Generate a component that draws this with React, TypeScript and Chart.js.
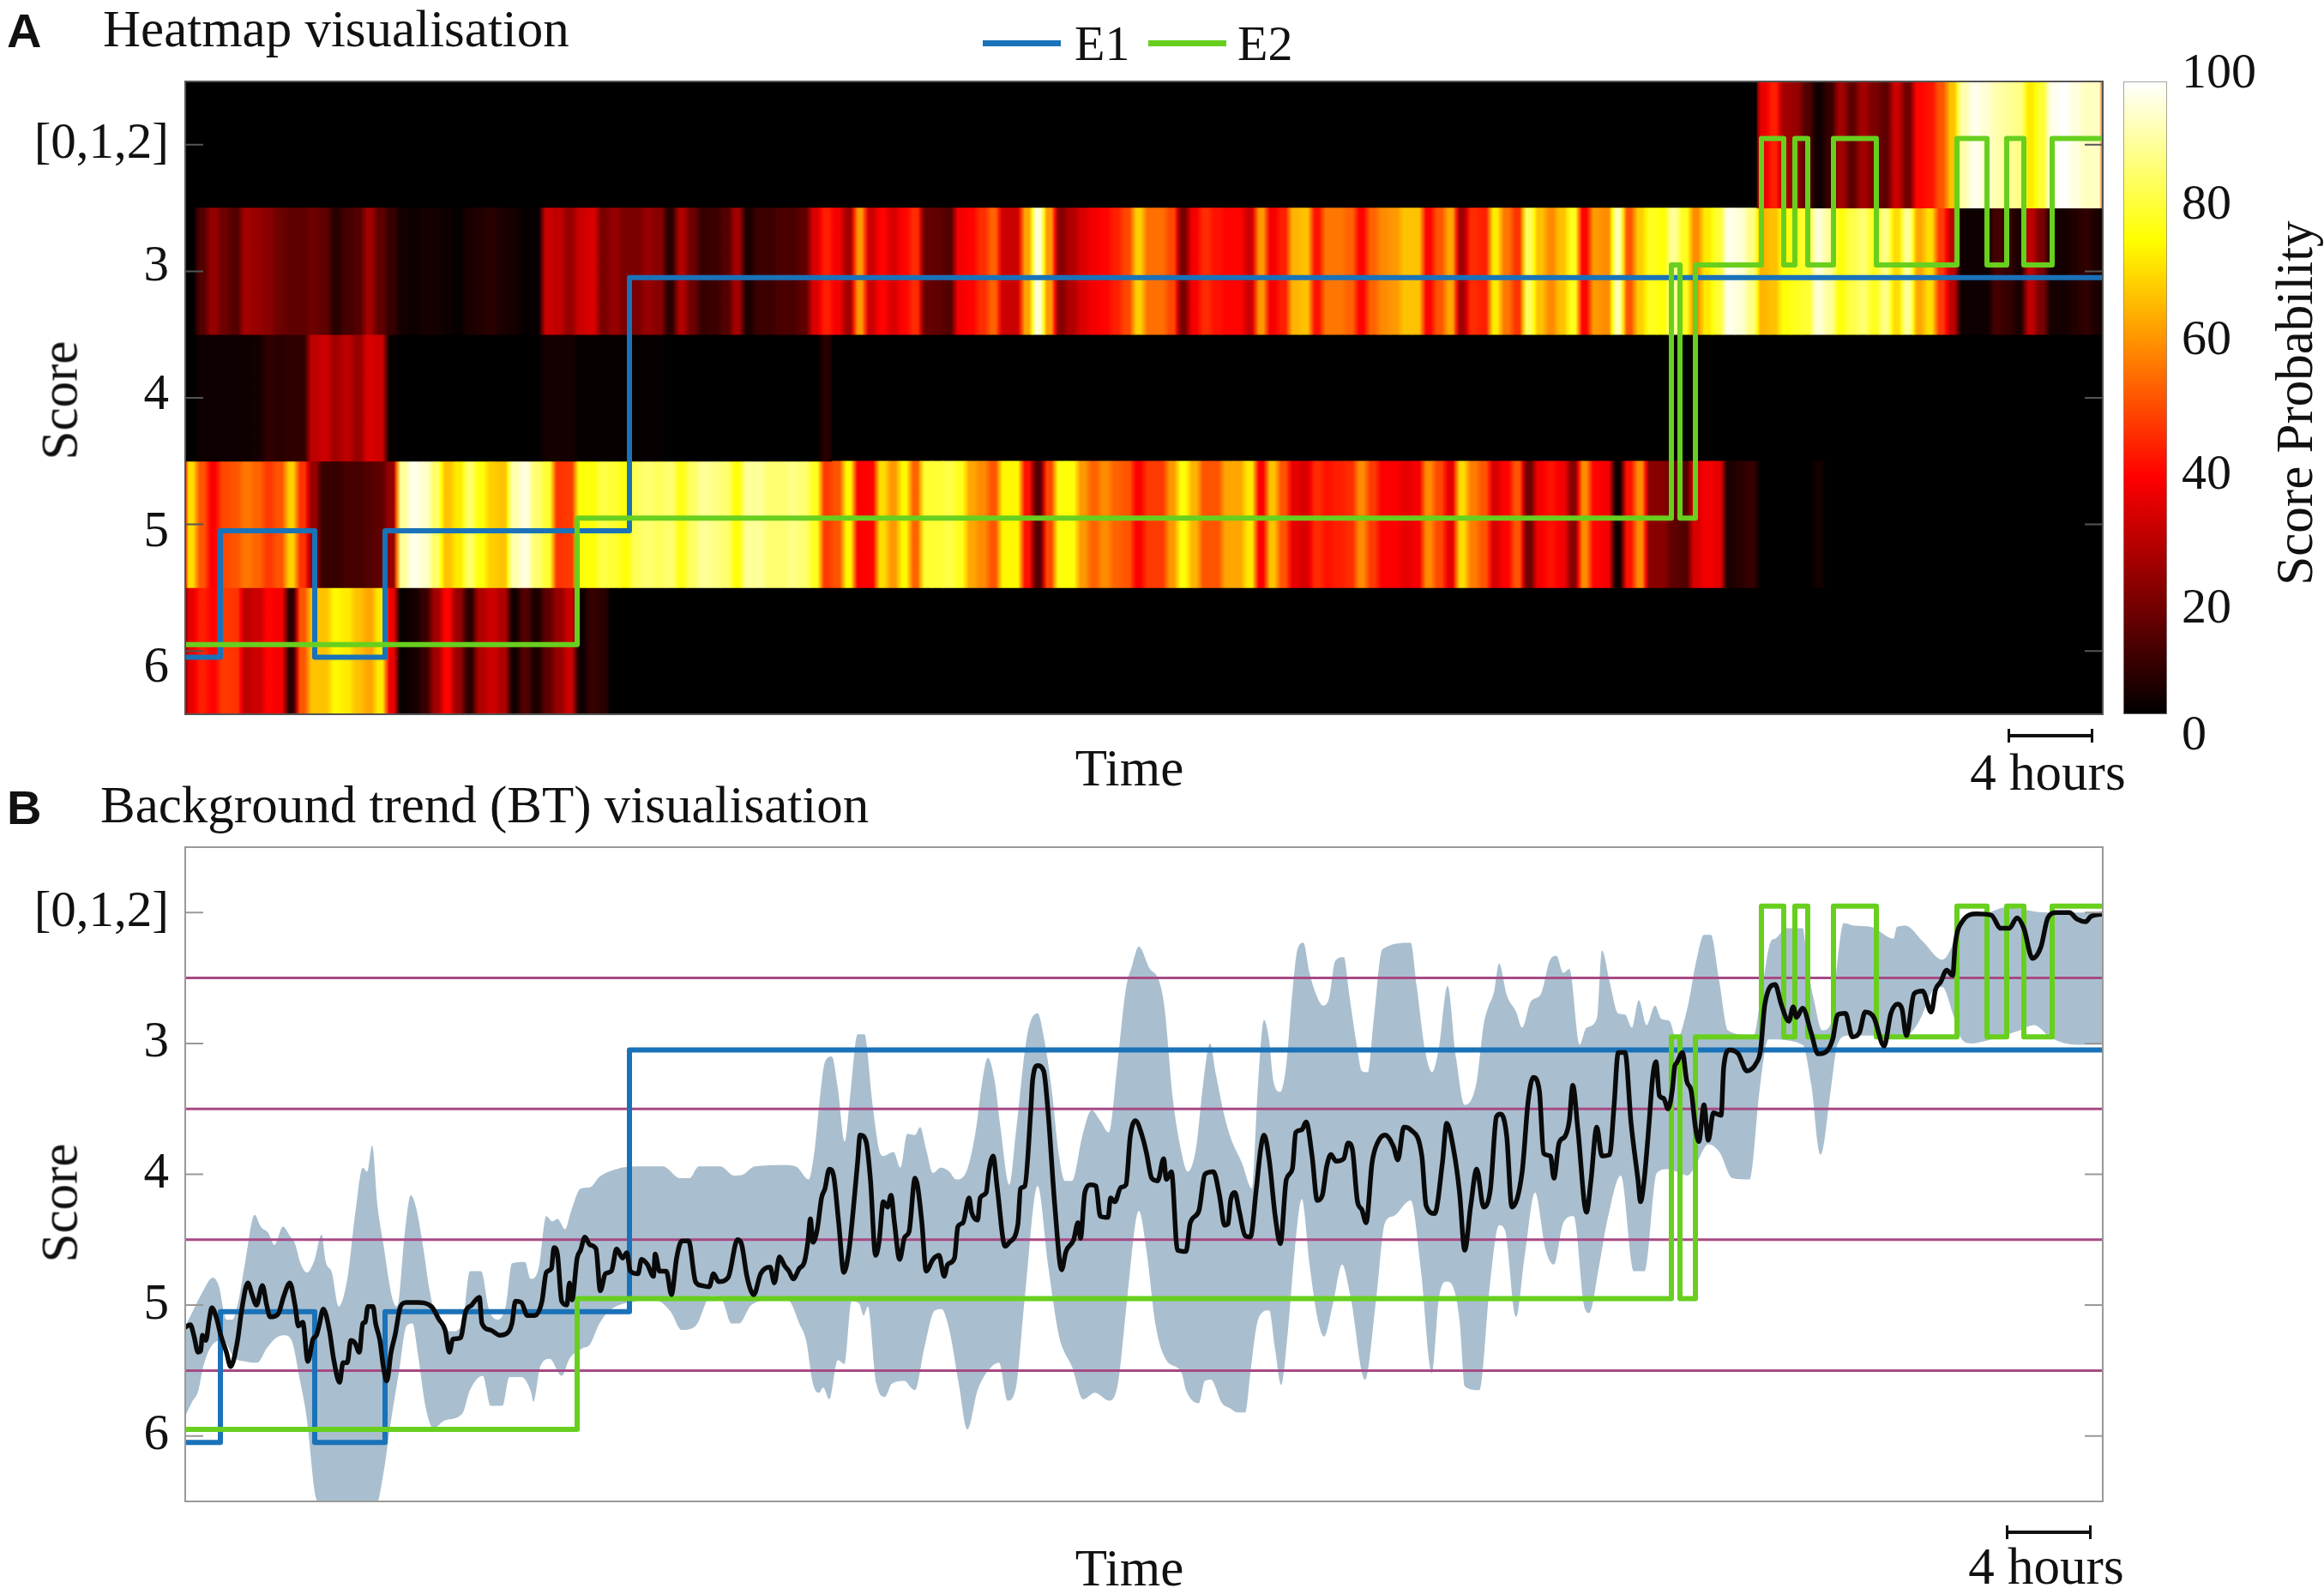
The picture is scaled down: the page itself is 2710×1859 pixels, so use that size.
import React, { useEffect, useRef } from 'react';
import { Chart, registerables } from 'chart.js';

Chart.register(...registerables);

// Time is in samples, 25 samples = 1 hour. Scores run from 2 ([0,1,2]) to 6.
const TOTAL_SAMPLES = 2236;
const COLUMN_SAMPLES = 13;

const scoreLevels = [2, 3, 4, 5, 6];
const scoreLabels = ['[0,1,2]', '3', '4', '5', '6'];
// the heatmap's labels sit a little off the row centres in the original
const heatLabelLevels = [2, 2.97, 3.98, 5.07, 6.14];
const colorbarLabels = ['100', '80', '60', '40', '20', '0'];
const bandThresholds = [2.5, 3.5, 4.5, 5.5];

// Expert scores as step changes: [sample, score]
const e1Steps = [[0, 6.05], [41, 5.05], [151, 6.05], [233, 5.05], [518, 3.05], [2236, 3.05]];
const e2Steps = [
  [0, 5.95], [457, 4.95], [1733, 2.95], [1743, 4.95], [1761, 2.95], [1838, 1.95], [1864, 2.95],
  [1877, 1.95], [1892, 2.95], [1922, 1.95], [1972, 2.95], [2066, 1.95], [2101, 2.95], [2124, 1.95],
  [2144, 2.95], [2177, 1.95], [2236, 1.95],
];

// Heatmap probabilities per score row, one value per column, from the first coloured column on
const row2First = 141;
const row2Probs = [
  34, 42, 24, 22, 12, 2, 8, 24, 14, 24, 18, 14, 30, 16, 38, 40, 50, 66, 92, 98, 96, 92, 90, 88, 72, 80, 98, 100, 97, 94, 94,
];
const row3First = 0;
const row3Probs = [
  0, 12, 22, 16, 12, 24, 22, 20, 16, 14, 14, 16, 14, 6, 10, 12, 24, 14, 8, 3, 2, 3, 3, 2, 1, 4, 5, 6, 4, 3, 1, 1, 30, 28, 22, 30, 32, 18, 22, 18, 18, 22, 20,
  6, 26, 16, 8, 9, 12, 24, 4, 9, 9, 11, 11, 14, 32, 42, 36, 24, 60, 30, 38, 32, 38, 44, 15, 14, 12, 36, 38, 44, 52, 30, 30, 62, 96, 60, 20, 26, 32, 36, 38, 42, 48, 68,
  54, 54, 48, 18, 36, 44, 40, 38, 38, 30, 60, 36, 42, 64, 66, 40, 55, 55, 52, 38, 52, 58, 60, 66, 66, 38, 50, 62, 24, 44, 42, 72, 55, 45, 84, 66, 58, 66, 78, 38, 60, 58, 92,
  50, 68, 78, 76, 90, 78, 58, 72, 80, 98, 96, 88, 64, 66, 76, 78, 80, 96, 90, 76, 82, 86, 78, 88, 70, 90, 62, 70, 46, 28, 2, 2, 2, 10, 8, 4, 28, 18, 3, 3, 5, 7, 4,
];
const row4First = 0;
const row4Probs = [
  0, 2, 2, 2, 2, 2, 3, 7, 6, 7, 7, 28, 30, 24, 28, 22, 32, 30, 1, 0, 0, 0, 0, 0, 0, 0, 0, 0, 0, 0, 0, 0, 3, 3, 3, 1, 1, 1, 1, 1, 1, 1, 1,
  0, 0, 0, 0, 0, 0, 0, 0, 0, 0, 0, 0, 0, 0, 6,
];
const row5First = 0;
const row5Probs = [
  70, 50, 37, 48, 50, 55, 52, 46, 50, 68, 45, 22, 8, 8, 10, 10, 12, 14, 22, 90, 98, 95, 85, 66, 72, 85, 76, 68, 66, 92, 97, 86, 80, 45, 46, 76, 76, 82, 80, 76, 84, 86, 84,
  86, 77, 85, 90, 88, 86, 76, 90, 90, 86, 86, 88, 86, 78, 46, 50, 74, 37, 38, 70, 60, 74, 52, 80, 80, 82, 78, 62, 58, 50, 74, 74, 40, 12, 48, 76, 76, 60, 52, 58, 52, 50, 37,
  46, 46, 60, 76, 64, 50, 50, 62, 62, 72, 37, 66, 50, 34, 32, 44, 40, 42, 44, 58, 46, 37, 37, 34, 36, 58, 48, 34, 70, 56, 50, 32, 38, 50, 16, 36, 40, 36, 20, 58, 38, 36, 2,
  40, 58, 20, 20, 14, 12, 32, 36, 34, 4, 6, 8, 0, 0, 0, 0, 0, 3,
];
const row6First = 0;
const row6Probs = [
  34, 42, 38, 46, 45, 28, 30, 38, 36, 6, 50, 66, 66, 74, 72, 66, 62, 72, 35, 1, 3, 8, 24, 38, 22, 6, 26, 30, 26, 3, 12, 4, 14, 22, 30, 2, 8, 6,
];

// Background trend, mean score over time: [sample, score]
const meanTrace = [
  [0, 5.17], [6, 5.15], [10, 5.23], [15, 5.36], [18, 5.35], [20, 5.23], [24, 5.27], [28, 5.11], [31, 5.02], [37, 5.11], [41, 5.22], [48, 5.36], [53, 5.47], [61, 5.27], [66, 5.03], [73, 4.83], [78, 4.92], [83, 5.0], [90, 4.85], [95, 5.0], [99, 5.09], [108, 5.07], [115, 4.93], [122, 4.83], [128, 5.0], [132, 5.16], [137, 5.13], [143, 5.43], [149, 5.26], [153, 5.23], [156, 5.16], [161, 5.03], [168, 5.19], [173, 5.41], [180, 5.59], [184, 5.44], [189, 5.44], [193, 5.27], [198, 5.29], [203, 5.36], [207, 5.14], [210, 5.13], [213, 5.01], [219, 5.01], [222, 5.14], [227, 5.27], [231, 5.47], [235, 5.58], [240, 5.36], [245, 5.22], [251, 5.01], [258, 4.98], [271, 4.98], [287, 5.01], [296, 5.11], [303, 5.19], [308, 5.36], [312, 5.26], [321, 5.25], [327, 5.05], [334, 5.0], [343, 4.94], [346, 5.14], [356, 5.19], [367, 5.23], [374, 5.22], [381, 5.14], [385, 4.97], [392, 4.98], [399, 5.08], [407, 5.08], [416, 4.97], [421, 4.75], [427, 4.72], [430, 4.56], [434, 4.61], [439, 4.97], [445, 5.0], [448, 4.83], [451, 4.96], [457, 4.64], [461, 4.58], [466, 4.48], [472, 4.54], [479, 4.57], [484, 4.89], [490, 4.76], [497, 4.74], [503, 4.57], [510, 4.64], [515, 4.6], [519, 4.74], [528, 4.76], [532, 4.65], [539, 4.69], [546, 4.78], [548, 4.61], [553, 4.74], [561, 4.74], [567, 4.92], [573, 4.64], [579, 4.51], [587, 4.51], [595, 4.82], [602, 4.85], [611, 4.86], [616, 4.76], [622, 4.82], [633, 4.79], [644, 4.5], [649, 4.54], [655, 4.78], [663, 4.92], [671, 4.76], [682, 4.71], [687, 4.83], [693, 4.63], [699, 4.7],
  [704, 4.74], [709, 4.8], [716, 4.72], [722, 4.67], [726, 4.52], [729, 4.34], [732, 4.52], [737, 4.42], [742, 4.18], [746, 4.11], [751, 3.96], [756, 4.01], [762, 4.37], [768, 4.75], [774, 4.58], [779, 4.27], [784, 3.91], [787, 3.7], [794, 3.75], [799, 4.04], [805, 4.62], [809, 4.52], [814, 4.21], [819, 4.25], [823, 4.16], [827, 4.37], [833, 4.65], [839, 4.48], [844, 4.44], [851, 4.03], [854, 4.09], [859, 4.37], [864, 4.74], [872, 4.65], [879, 4.62], [885, 4.78], [889, 4.69], [897, 4.64], [901, 4.4], [907, 4.37], [914, 4.18], [917, 4.29], [924, 4.35], [927, 4.18], [934, 4.14], [937, 3.98], [942, 3.86], [947, 4.11], [956, 4.55], [961, 4.52], [971, 4.38], [974, 4.11], [979, 4.09], [986, 3.51], [988, 3.29], [994, 3.17], [1001, 3.21], [1006, 3.51], [1014, 4.24], [1022, 4.73], [1027, 4.59], [1036, 4.5], [1041, 4.37], [1044, 4.49], [1049, 4.14], [1056, 4.08], [1062, 4.09], [1067, 4.32], [1076, 4.33], [1079, 4.18], [1084, 4.21], [1091, 4.1], [1097, 4.08], [1102, 3.71], [1108, 3.59], [1116, 3.71], [1121, 3.84], [1127, 4.03], [1134, 4.05], [1141, 3.88], [1144, 4.04], [1150, 3.98], [1157, 4.58], [1167, 4.59], [1172, 4.37], [1182, 4.28], [1189, 4.0], [1199, 3.98], [1206, 4.16], [1212, 4.39], [1216, 4.38], [1219, 4.2],
  [1224, 4.14], [1229, 4.28], [1236, 4.47], [1242, 4.48], [1249, 4.11], [1254, 3.81], [1258, 3.7], [1264, 3.89], [1271, 4.32], [1277, 4.53], [1284, 4.04], [1291, 3.96], [1295, 3.68], [1302, 3.66], [1307, 3.6], [1314, 3.86], [1320, 4.2], [1326, 4.16], [1331, 3.94], [1336, 3.85], [1342, 3.9], [1351, 3.88], [1356, 3.76], [1361, 3.81], [1367, 4.21], [1372, 4.27], [1377, 4.37], [1384, 3.91], [1391, 3.75], [1399, 3.7], [1409, 3.79], [1414, 3.89], [1421, 3.64], [1429, 3.66], [1442, 3.86], [1447, 4.24], [1457, 4.3], [1466, 3.91], [1471, 3.61], [1479, 3.81], [1486, 4.14], [1492, 4.58], [1499, 4.24], [1506, 3.96], [1514, 4.25], [1522, 4.11], [1529, 3.56], [1534, 3.54], [1541, 3.71], [1547, 4.25], [1559, 3.98], [1566, 3.44], [1572, 3.26], [1579, 3.36], [1584, 3.84], [1592, 3.86], [1596, 4.03], [1602, 3.76], [1609, 3.71], [1614, 3.59], [1618, 3.32], [1624, 3.66], [1634, 4.29], [1639, 4.06], [1646, 3.64], [1652, 3.86], [1661, 3.85], [1666, 3.49], [1671, 3.07], [1679, 3.07], [1686, 3.61], [1694, 4.04], [1697, 4.21], [1701, 4.06], [1707, 3.61], [1711, 3.27], [1715, 3.14], [1719, 3.4], [1724, 3.42], [1729, 3.5], [1734, 3.36], [1737, 3.17],
  [1739, 3.15], [1746, 3.07], [1751, 3.29], [1756, 3.36], [1761, 3.64], [1765, 3.75], [1771, 3.47], [1776, 3.74], [1782, 3.53], [1791, 3.55], [1794, 3.18], [1801, 3.05], [1811, 3.08], [1821, 3.21], [1832, 3.15], [1837, 3.05], [1842, 2.7], [1854, 2.55], [1861, 2.7], [1870, 2.83], [1875, 2.72], [1879, 2.8], [1886, 2.73], [1896, 2.92], [1904, 3.08], [1912, 3.07], [1921, 2.97], [1927, 2.78], [1936, 2.77], [1944, 2.95], [1952, 2.92], [1959, 2.76], [1969, 2.8], [1981, 3.02], [1989, 2.77], [1997, 2.7], [2002, 2.74], [2007, 2.94], [2016, 2.62], [2026, 2.6], [2036, 2.76], [2041, 2.59], [2047, 2.53], [2054, 2.44], [2061, 2.48], [2064, 2.24], [2072, 2.07], [2089, 2.01], [2106, 2.02], [2117, 2.12], [2127, 2.12], [2136, 2.04], [2144, 2.12], [2154, 2.35], [2164, 2.26], [2172, 2.04], [2182, 2.0], [2197, 2.0], [2206, 2.05], [2216, 2.07], [2222, 2.03], [2236, 2.01],
];

// Background trend, upper edge of the shaded band (top of the picture = lower score)
const bandUpper = [
  [0, 5.16], [10, 5.03], [21, 4.89], [32, 4.79], [39, 4.85], [48, 5.11], [55, 5.11], [61, 5.0], [70, 4.67], [81, 4.31], [88, 4.4], [97, 4.45], [104, 4.54], [114, 4.4], [122, 4.47], [128, 4.53], [135, 4.69], [142, 4.75], [151, 4.65], [159, 4.46], [164, 4.67], [171, 4.75], [179, 5.01], [189, 4.8], [198, 4.31], [207, 3.95], [212, 3.98], [218, 3.78], [224, 4.23], [231, 4.53], [242, 4.96], [247, 5.01], [256, 4.45], [263, 4.16], [269, 4.25], [278, 4.58], [285, 4.89], [294, 5.12], [312, 5.2], [323, 5.14], [332, 4.74], [345, 4.74], [354, 5.03], [365, 5.11], [374, 5.0], [381, 4.68], [396, 4.67], [403, 4.8], [412, 4.72], [421, 4.32], [428, 4.36], [434, 4.34], [443, 4.42], [450, 4.28], [461, 4.11], [472, 4.1], [483, 4.02], [503, 3.96], [526, 3.94], [557, 3.94], [577, 4.03], [588, 4.03], [599, 3.94], [624, 3.94], [640, 4.01], [651, 4.0], [664, 3.94], [699, 3.93],
  [712, 3.94], [727, 4.04], [734, 3.81], [741, 3.36], [746, 3.14], [754, 3.1], [761, 3.34], [769, 3.75], [776, 3.36], [784, 2.93], [792, 2.93], [801, 3.44], [809, 3.81], [814, 3.86], [826, 3.83], [834, 3.95], [842, 3.69], [851, 3.7], [857, 3.64], [864, 3.81], [872, 3.99], [881, 3.95], [891, 3.98], [899, 4.04], [912, 3.96], [922, 3.66], [929, 3.31], [936, 3.11], [944, 3.29], [951, 3.66], [961, 4.08], [969, 3.66], [982, 2.93], [994, 2.77], [1002, 2.98], [1011, 3.39], [1019, 3.86], [1026, 4.05], [1034, 4.05], [1046, 3.71], [1057, 3.51], [1067, 3.59], [1077, 3.68], [1087, 3.16], [1097, 2.58], [1104, 2.41], [1112, 2.26], [1124, 2.42], [1136, 2.53], [1142, 2.73], [1152, 3.44], [1161, 3.81], [1169, 3.98], [1179, 3.79], [1187, 3.31], [1195, 3.0], [1202, 3.24], [1212, 3.56], [1219, 3.72],
  [1232, 3.91], [1244, 4.11], [1251, 3.31], [1258, 2.82], [1264, 2.98], [1269, 3.29], [1277, 3.37], [1284, 3.16], [1291, 2.61], [1297, 2.28], [1304, 2.23], [1311, 2.46], [1319, 2.63], [1327, 2.71], [1334, 2.65], [1341, 2.37], [1351, 2.34], [1357, 2.61], [1366, 3.01], [1372, 3.21], [1379, 3.22], [1386, 2.81], [1396, 2.28], [1429, 2.23], [1436, 2.56], [1446, 3.06], [1454, 3.22], [1462, 3.03], [1472, 2.56], [1482, 3.11], [1492, 3.47], [1506, 3.29], [1514, 2.86], [1519, 2.73], [1526, 2.61], [1532, 2.39], [1541, 2.63], [1552, 2.76], [1559, 2.88], [1569, 2.68], [1581, 2.62], [1591, 2.37], [1599, 2.33], [1607, 2.46], [1614, 2.43], [1626, 3.01], [1634, 2.88], [1646, 2.81], [1652, 2.29], [1661, 2.53], [1671, 2.77], [1679, 2.78], [1687, 2.88], [1695, 2.67], [1704, 2.86], [1714, 2.71], [1721, 2.81], [1731, 2.83], [1739, 2.97],
  [1752, 2.72], [1762, 2.37], [1771, 2.17], [1779, 2.17], [1789, 2.53], [1799, 2.9], [1829, 2.94], [1837, 2.66], [1849, 2.22], [1854, 2.2], [1867, 2.12], [1886, 2.12], [1892, 2.42], [1899, 2.66], [1909, 2.9], [1919, 2.85], [1927, 2.35], [1934, 2.08], [1946, 2.1], [1966, 2.11], [1992, 2.2], [1996, 2.11], [2006, 2.1], [2026, 2.22], [2049, 2.36], [2064, 2.2], [2072, 2.05], [2102, 2.0], [2122, 1.96], [2172, 2.0], [2236, 2.0],
];

// Background trend, lower edge of the shaded band
const bandLower = [
  [0, 5.85], [8, 5.74], [15, 5.66], [21, 5.47], [32, 5.3], [44, 5.27], [57, 5.4], [70, 5.43], [84, 5.44], [95, 5.33], [106, 5.25], [115, 5.23], [124, 5.27], [133, 5.55], [142, 5.88], [151, 6.43], [155, 6.5], [224, 6.5], [231, 6.29], [240, 5.88], [249, 5.52], [258, 5.16], [265, 5.14], [271, 5.36], [280, 5.77], [289, 5.94], [303, 5.88], [323, 5.83], [332, 5.65], [347, 5.54], [356, 5.77], [370, 5.77], [378, 5.55], [392, 5.55], [403, 5.66], [406, 5.74], [414, 5.47], [425, 5.41], [439, 5.54], [448, 5.41], [463, 5.33], [472, 5.3], [483, 5.14], [495, 5.04], [526, 4.97], [548, 4.96], [566, 5.05], [579, 5.19], [595, 5.16], [613, 4.93], [626, 4.96], [637, 5.14], [646, 5.14], [660, 5.0], [682, 4.96], [699, 4.95],
  [706, 4.98], [716, 5.14], [724, 5.27], [732, 5.6], [739, 5.67], [744, 5.63], [751, 5.72], [761, 5.42], [769, 5.45], [777, 4.97], [786, 4.99], [791, 5.08], [796, 5.01], [806, 5.6], [816, 5.7], [824, 5.6], [839, 5.58], [846, 5.63], [851, 5.65], [862, 5.32], [874, 5.04], [882, 5.03], [891, 5.19], [902, 5.6], [912, 5.95], [924, 5.65], [939, 5.48], [949, 5.44], [959, 5.73], [969, 5.62], [979, 4.94], [994, 4.09], [1006, 4.69], [1019, 5.24], [1024, 5.34], [1034, 5.47], [1047, 5.72], [1061, 5.67], [1077, 5.73], [1087, 5.62], [1099, 4.92], [1112, 4.28], [1121, 4.59], [1132, 5.17], [1144, 5.42], [1162, 5.52], [1167, 5.65], [1182, 5.75], [1189, 5.58], [1196, 5.57], [1209, 5.75], [1219, 5.79],
  [1227, 5.82], [1236, 5.82], [1242, 5.52], [1249, 5.17], [1254, 5.07], [1264, 5.04], [1271, 5.34], [1278, 5.61], [1286, 5.19], [1294, 4.57], [1302, 4.19], [1311, 4.69], [1321, 5.12], [1328, 5.24], [1339, 4.97], [1349, 4.69], [1359, 4.94], [1376, 5.57], [1389, 4.94], [1399, 4.37], [1409, 4.32], [1429, 4.2], [1441, 4.74], [1454, 5.52], [1462, 4.94], [1471, 4.82], [1479, 4.87], [1486, 5.12], [1492, 5.62], [1509, 5.65], [1521, 4.87], [1532, 4.39], [1539, 4.43], [1552, 5.09], [1562, 4.62], [1574, 4.14], [1586, 4.57], [1596, 4.69], [1607, 4.37], [1619, 4.32], [1631, 5.0], [1637, 5.06], [1649, 4.69], [1659, 4.33], [1674, 4.01], [1689, 4.74], [1702, 4.74], [1716, 3.99], [1729, 3.96], [1739, 3.98],
  [1752, 4.01], [1762, 3.92], [1776, 3.77], [1789, 3.83], [1804, 4.03], [1824, 4.04], [1836, 3.35], [1846, 2.97], [1886, 3.01], [1896, 3.31], [1907, 3.85], [1919, 3.35], [1927, 3.0], [1939, 2.94], [2006, 2.94], [2022, 2.83], [2039, 2.59], [2049, 2.57], [2061, 2.77], [2069, 2.94], [2082, 3.0], [2106, 2.97], [2139, 2.9], [2156, 2.86], [2176, 2.96], [2206, 3.01], [2236, 3.01],
];

const E1_COLOR = '#1a72b8';
const E2_COLOR = '#68cf1e';
const BAND_COLOR = '#a9bfcf';
const THRESHOLD_COLOR = '#a64a85';
const SERIF = '"Liberation Serif", serif';

const asPoints = (pairs: number[][]) => pairs.map(([x, y]) => ({ x, y }));

// MATLAB style hot colormap
const hotColor = (v: number) => {
  const clamp = (n: number) => Math.round(Math.max(0, Math.min(1, n)) * 255);
  return `rgb(${clamp(v / 37.5)},${clamp((v - 37.5) / 37.5)},${clamp((v - 75) / 25)})`;
};

const heatDataset = (score: number, first: number, values: number[]) => ({
  type: 'bar' as const,
  order: 5,
  grouped: false,
  barThickness: COLUMN_SAMPLES,
  borderWidth: 0,
  data: values.map((_, i) => ({
    x: (first + i) * COLUMN_SAMPLES + COLUMN_SAMPLES / 2,
    y: [score - 0.5, score + 0.5],
  })),
  // soft edge towards the neighbouring columns, the original image is interpolated
  backgroundColor: (context: any) => {
    const { chart, dataIndex } = context;
    const v = values[dataIndex];
    if (v === undefined || !chart.chartArea) return '#000';
    const left = chart.scales.x.getPixelForValue((first + dataIndex) * COLUMN_SAMPLES);
    const gradient = chart.ctx.createLinearGradient(left, 0, left + COLUMN_SAMPLES, 0);
    gradient.addColorStop(0, hotColor((v + (values[dataIndex - 1] ?? 0)) / 2));
    gradient.addColorStop(0.3, hotColor(v));
    gradient.addColorStop(0.7, hotColor(v));
    gradient.addColorStop(1, hotColor((v + (values[dataIndex + 1] ?? 0)) / 2));
    return gradient;
  },
});

const stepDataset = (steps: number[][], color: string, order: number) => ({
  type: 'line' as const,
  order,
  data: asPoints(steps),
  borderColor: color,
  borderWidth: 6,
  stepped: true,
  pointRadius: 0,
  borderJoinStyle: 'round' as const,
});

// Chart.js merges into the options it gets, so each chart builds its own
const scoreOptions = (labelLevels: number[]) => ({
  responsive: false,
  animation: false as const,
  devicePixelRatio: 1,
  plugins: { legend: { display: false }, tooltip: { enabled: false } },
  layout: { padding: { top: 60, bottom: 60, left: 0, right: 2 } },
  scales: {
    x: { type: 'linear' as const, display: false, min: 0, max: TOTAL_SAMPLES, offset: false },
    y: {
      type: 'linear' as const,
      reverse: true,
      min: 1.5,
      max: 6.5,
      afterBuildTicks: (scale: any) => {
        scale.ticks = labelLevels.map((value) => ({ value }));
      },
      afterFit: (scale: any) => {
        scale.width = 216;
      },
      grid: { display: false },
      border: { display: false },
      ticks: {
        padding: 11,
        color: '#111',
        font: { family: SERIF, size: 59 },
        callback: (_value: any, index: number) => scoreLabels[index],
      },
    },
  },
});

// Frame and the short inner tick marks of the MATLAB axes
const framePlugin = (color: string, background?: string) => ({
  id: 'frame',
  beforeDatasetsDraw(chart: any) {
    if (!background) return;
    const { ctx, chartArea: a } = chart;
    ctx.save();
    ctx.fillStyle = background;
    ctx.fillRect(a.left, a.top, a.width, a.height);
    ctx.restore();
  },
  afterDraw(chart: any) {
    const { ctx, chartArea: a, scales } = chart;
    ctx.save();
    ctx.strokeStyle = color;
    ctx.lineWidth = 2;
    ctx.strokeRect(a.left, a.top, a.width, a.height);
    scoreLevels.forEach((level) => {
      const y = scales.y.getPixelForValue(level);
      ctx.beginPath();
      ctx.moveTo(a.left, y);
      ctx.lineTo(a.left + 21, y);
      ctx.moveTo(a.right, y);
      ctx.lineTo(a.right - 21, y);
      ctx.stroke();
    });
    ctx.restore();
  },
});

const HeatmapPanel: React.FC = () => {
  const canvasRef = useRef<HTMLCanvasElement | null>(null);
  useEffect(() => {
    if (!canvasRef.current) return;
    const chart = new Chart(canvasRef.current, {
      data: {
        datasets: [
          stepDataset(e2Steps, E2_COLOR, 0),
          stepDataset(e1Steps, E1_COLOR, 1),
          heatDataset(2, row2First, row2Probs),
          heatDataset(3, row3First, row3Probs),
          heatDataset(4, row4First, row4Probs),
          heatDataset(5, row5First, row5Probs),
          heatDataset(6, row6First, row6Probs),
        ],
      } as any,
      options: scoreOptions(heatLabelLevels) as any,
      plugins: [framePlugin('#555', '#000')],
    });
    return () => chart.destroy();
  }, []);
  return <canvas ref={canvasRef} width={2454} height={858} style={{ position: 'absolute', left: 0, top: 35 }} />;
};

const TrendPanel: React.FC = () => {
  const canvasRef = useRef<HTMLCanvasElement | null>(null);
  useEffect(() => {
    if (!canvasRef.current) return;
    const chart = new Chart(canvasRef.current, {
      type: 'line',
      data: {
        datasets: [
          {
            data: asPoints(bandUpper),
            borderWidth: 0,
            pointRadius: 0,
            backgroundColor: BAND_COLOR,
            fill: '+1',
            cubicInterpolationMode: 'monotone',
            order: 9,
          },
          { data: asPoints(bandLower), borderWidth: 0, pointRadius: 0, cubicInterpolationMode: 'monotone', order: 9 },
          ...bandThresholds.map((level) => ({
            data: asPoints([[0, level], [TOTAL_SAMPLES, level]]),
            borderColor: THRESHOLD_COLOR,
            borderWidth: 3,
            pointRadius: 0,
            order: 4,
          })),
          stepDataset(e1Steps, E1_COLOR, 3),
          stepDataset(e2Steps, E2_COLOR, 2),
          {
            data: asPoints(meanTrace),
            borderColor: '#0a0a0a',
            borderWidth: 5.5,
            pointRadius: 0,
            borderJoinStyle: 'round',
            cubicInterpolationMode: 'monotone',
            order: 1,
          },
        ],
      } as any,
      options: scoreOptions(scoreLevels) as any,
      plugins: [framePlugin('#999')],
    });
    return () => chart.destroy();
  }, []);
  return <canvas ref={canvasRef} width={2454} height={883} style={{ position: 'absolute', left: 0, top: 928 }} />;
};

const ColorBar: React.FC = () => {
  const canvasRef = useRef<HTMLCanvasElement | null>(null);
  useEffect(() => {
    if (!canvasRef.current) return;
    const chart = new Chart(canvasRef.current, {
      type: 'bar',
      data: {
        labels: ['p'],
        datasets: [
          {
            data: [[0, 100]],
            barPercentage: 1,
            categoryPercentage: 1,
            borderWidth: 0,
            backgroundColor: (context: any) => {
              const { ctx, chartArea } = context.chart;
              if (!chartArea) return '#000';
              const gradient = ctx.createLinearGradient(0, chartArea.bottom, 0, chartArea.top);
              for (let v = 0; v <= 100; v += 2.5) gradient.addColorStop(v / 100, hotColor(v));
              return gradient;
            },
          },
        ],
      } as any,
      options: {
        responsive: false,
        animation: false,
        devicePixelRatio: 1,
        plugins: { legend: { display: false }, tooltip: { enabled: false } },
        scales: {
          x: { display: false },
          y: { display: false, min: 0, max: 100 },
        },
      } as any,
      plugins: [
        {
          id: 'barFrame',
          afterDraw(c: any) {
            const { ctx, chartArea: a } = c;
            ctx.strokeStyle = '#888';
            ctx.lineWidth = 1.5;
            ctx.strokeRect(a.left, a.top, a.width, a.height);
          },
        },
      ],
    });
    return () => chart.destroy();
  }, []);
  return <canvas ref={canvasRef} width={51} height={738} style={{ position: 'absolute', left: 2476, top: 95 }} />;
};

const Label: React.FC<{ x: number; y: number; size?: number; bold?: boolean; center?: boolean; rotate?: boolean; children: React.ReactNode }> = ({
  x,
  y,
  size = 61,
  bold,
  center,
  rotate,
  children,
}) => (
  <div
    style={{
      position: 'absolute',
      left: x,
      top: y,
      transform: `translate(${center || rotate ? '-50%' : '0'}, -50%)${rotate ? ' rotate(-90deg)' : ''}`,
      whiteSpace: 'nowrap',
      lineHeight: 1,
      color: '#111',
      fontSize: size,
      fontFamily: bold ? '"Liberation Sans", sans-serif' : SERIF,
      fontWeight: bold ? 700 : 400,
    }}
  >
    {children}
  </div>
);

const ScaleBar: React.FC<{ x: number; y: number }> = ({ x, y }) => (
  <div
    style={{
      position: 'absolute',
      left: x,
      top: y - 8,
      width: 100,
      height: 16,
      boxSizing: 'border-box',
      borderLeft: '3px solid #111',
      borderRight: '3px solid #111',
      background: 'linear-gradient(#111,#111) center / 100% 4px no-repeat',
    }}
  />
);

const LegendLine: React.FC<{ x: number; color: string }> = ({ x, color }) => (
  <div style={{ position: 'absolute', left: x, top: 47, width: 91, height: 7, background: color }} />
);

export default function App() {
  const colorbarLabelY = [83, 236, 394, 551, 707, 855];
  return (
    <div style={{ position: 'fixed', left: 0, top: 0, width: 2710, height: 1859, background: '#fff', overflow: 'hidden' }}>
      <HeatmapPanel />
      <TrendPanel />
      <ColorBar />

      <Label x={8} y={36} size={56} bold>A</Label>
      <Label x={8} y={942} size={56} bold>B</Label>
      <Label x={120} y={33}>Heatmap visualisation</Label>
      <Label x={117} y={938}>Background trend (BT) visualisation</Label>

      <LegendLine x={1146} color={E1_COLOR} />
      <Label x={1253} y={51} size={58}>E1</Label>
      <LegendLine x={1339} color={E2_COLOR} />
      <Label x={1443} y={51} size={58}>E2</Label>

      <Label x={69} y={467} rotate>Score</Label>
      <Label x={69} y={1403} rotate>Score</Label>
      <Label x={1317} y={895} center>Time</Label>
      <Label x={1317} y={1828} center>Time</Label>

      {colorbarLabels.map((text, i) => (
        <Label key={text} x={2544} y={colorbarLabelY[i]} size={58}>{text}</Label>
      ))}
      <Label x={2675} y={470} rotate>Score Probability</Label>

      <ScaleBar x={2341} y={858} />
      <Label x={2388} y={900} center>4 hours</Label>
      <ScaleBar x={2339} y={1787} />
      <Label x={2386} y={1826} center>4 hours</Label>
    </div>
  );
}
